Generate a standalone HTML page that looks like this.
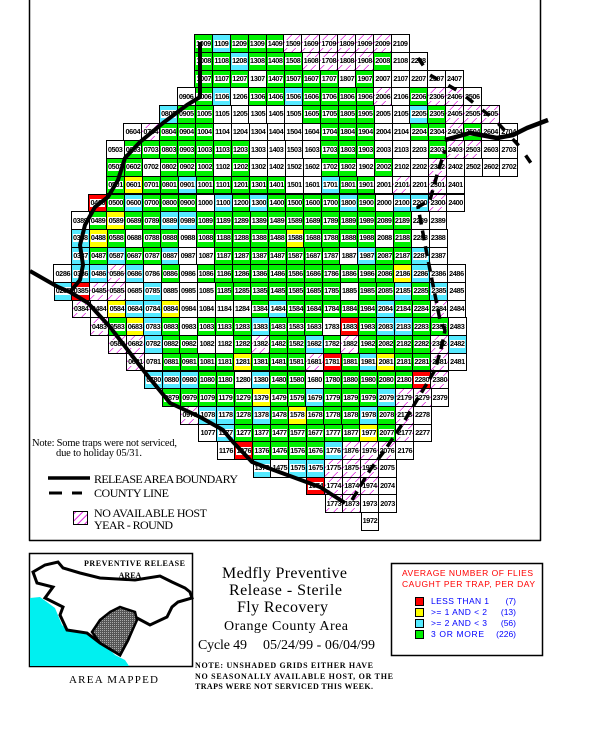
<!DOCTYPE html>
<html><head><meta charset="utf-8"><style>
html,body{margin:0;padding:0;background:#fff}
#p{position:relative;width:600px;height:751px;overflow:hidden;background:#fff}
.r{position:absolute;display:flex;white-space:nowrap;z-index:1}
.r b{box-sizing:border-box;width:18.9px;height:18.7px;margin-right:-1px;border:1px solid #000;display:flex;align-items:center;justify-content:center;flex:none}
.r b i{font:bold 7.3px/8px "Liberation Sans",sans-serif;font-style:normal;background:#fff;color:#000;padding:0 .3px;letter-spacing:-.4px}
.g{background:#00f000}.c{background:#55eaff}.y{background:#ffff00}.x{background:#ff0000}.w{background:#fff}
.h{background:repeating-linear-gradient(135deg,#fff 0 5px,#e020e0 5px 6px)}
svg{position:absolute;left:0;top:0;z-index:2}
</style></head><body><div id="p">
<div class="r" style="left:194px;top:34.2px"><b class=g><i>1009</i></b><b class=c><i>1109</i></b><b class=g><i>1209</i></b><b class=g><i>1309</i></b><b class=g><i>1409</i></b><b class=h><i>1509</i></b><b class=h><i>1609</i></b><b class=h><i>1709</i></b><b class=h><i>1809</i></b><b class=h><i>1909</i></b><b class=h><i>2009</i></b><b class=w><i>2109</i></b></div>
<div class="r" style="left:194.2px;top:51.9px"><b class=g><i>1008</i></b><b class=g><i>1108</i></b><b class=c><i>1208</i></b><b class=g><i>1308</i></b><b class=g><i>1408</i></b><b class=g><i>1508</i></b><b class=h><i>1608</i></b><b class=h><i>1708</i></b><b class=h><i>1808</i></b><b class=h><i>1908</i></b><b class=g><i>2008</i></b><b class=w><i>2108</i></b><b class=w><i>2208</i></b></div>
<div class="r" style="left:194.4px;top:69.6px"><b class=g><i>1007</i></b><b class=g><i>1107</i></b><b class=g><i>1207</i></b><b class=w><i>1307</i></b><b class=g><i>1407</i></b><b class=g><i>1507</i></b><b class=g><i>1607</i></b><b class=g><i>1707</i></b><b class=w><i>1807</i></b><b class=g><i>1907</i></b><b class=w><i>2007</i></b><b class=w><i>2107</i></b><b class=w><i>2207</i></b><b class=w><i>2307</i></b><b class=w><i>2407</i></b></div>
<div class="r" style="left:176.7px;top:87.3px"><b class=w><i>0906</i></b><b class=g><i>1006</i></b><b class=c><i>1106</i></b><b class=w><i>1206</i></b><b class=g><i>1306</i></b><b class=g><i>1406</i></b><b class=c><i>1506</i></b><b class=g><i>1606</i></b><b class=g><i>1706</i></b><b class=g><i>1806</i></b><b class=g><i>1906</i></b><b class=h><i>2006</i></b><b class=w><i>2106</i></b><b class=g><i>2206</i></b><b class=h><i>2306</i></b><b class=h><i>2406</i></b><b class=w><i>2506</i></b></div>
<div class="r" style="left:159px;top:105px"><b class=c><i>0805</i></b><b class=g><i>0905</i></b><b class=g><i>1005</i></b><b class=w><i>1105</i></b><b class=w><i>1205</i></b><b class=w><i>1305</i></b><b class=w><i>1405</i></b><b class=w><i>1505</i></b><b class=g><i>1605</i></b><b class=g><i>1705</i></b><b class=g><i>1805</i></b><b class=g><i>1905</i></b><b class=w><i>2005</i></b><b class=w><i>2105</i></b><b class=c><i>2205</i></b><b class=g><i>2305</i></b><b class=h><i>2405</i></b><b class=h><i>2505</i></b><b class=h><i>2605</i></b></div>
<div class="r" style="left:123.4px;top:122.7px"><b class=w><i>0604</i></b><b class=h><i>0704</i></b><b class=g><i>0804</i></b><b class=g><i>0904</i></b><b class=g><i>1004</i></b><b class=w><i>1104</i></b><b class=w><i>1204</i></b><b class=w><i>1304</i></b><b class=w><i>1404</i></b><b class=w><i>1504</i></b><b class=w><i>1604</i></b><b class=g><i>1704</i></b><b class=g><i>1804</i></b><b class=g><i>1904</i></b><b class=w><i>2004</i></b><b class=w><i>2104</i></b><b class=g><i>2204</i></b><b class=g><i>2304</i></b><b class=h><i>2404</i></b><b class=g><i>2504</i></b><b class=w><i>2604</i></b><b class=w><i>2704</i></b></div>
<div class="r" style="left:105.7px;top:140.4px"><b class=w><i>0503</i></b><b class=g><i>0603</i></b><b class=g><i>0703</i></b><b class=g><i>0803</i></b><b class=g><i>0903</i></b><b class=g><i>1003</i></b><b class=g><i>1103</i></b><b class=g><i>1203</i></b><b class=w><i>1303</i></b><b class=w><i>1403</i></b><b class=w><i>1503</i></b><b class=w><i>1603</i></b><b class=g><i>1703</i></b><b class=g><i>1803</i></b><b class=g><i>1903</i></b><b class=w><i>2003</i></b><b class=w><i>2103</i></b><b class=w><i>2203</i></b><b class=g><i>2303</i></b><b class=h><i>2403</i></b><b class=h><i>2503</i></b><b class=w><i>2603</i></b><b class=w><i>2703</i></b></div>
<div class="r" style="left:105.9px;top:158.1px"><b class=g><i>0502</i></b><b class=g><i>0602</i></b><b class=w><i>0702</i></b><b class=g><i>0802</i></b><b class=g><i>0902</i></b><b class=g><i>1002</i></b><b class=w><i>1102</i></b><b class=g><i>1202</i></b><b class=w><i>1302</i></b><b class=w><i>1402</i></b><b class=w><i>1502</i></b><b class=w><i>1602</i></b><b class=g><i>1702</i></b><b class=g><i>1802</i></b><b class=w><i>1902</i></b><b class=g><i>2002</i></b><b class=w><i>2102</i></b><b class=w><i>2202</i></b><b class=h><i>2302</i></b><b class=w><i>2402</i></b><b class=w><i>2502</i></b><b class=w><i>2602</i></b><b class=w><i>2702</i></b></div>
<div class="r" style="left:106.1px;top:175.8px"><b class=g><i>0501</i></b><b class=y><i>0601</i></b><b class=g><i>0701</i></b><b class=g><i>0801</i></b><b class=c><i>0901</i></b><b class=g><i>1001</i></b><b class=g><i>1101</i></b><b class=g><i>1201</i></b><b class=g><i>1301</i></b><b class=g><i>1401</i></b><b class=w><i>1501</i></b><b class=w><i>1601</i></b><b class=c><i>1701</i></b><b class=g><i>1801</i></b><b class=g><i>1901</i></b><b class=w><i>2001</i></b><b class=h><i>2101</i></b><b class=w><i>2201</i></b><b class=h><i>2301</i></b><b class=w><i>2401</i></b></div>
<div class="r" style="left:88.4px;top:193.5px"><b class=x><i>0400</i></b><b class=g><i>0500</i></b><b class=c><i>0600</i></b><b class=g><i>0700</i></b><b class=g><i>0800</i></b><b class=g><i>0900</i></b><b class=w><i>1000</i></b><b class=c><i>1100</i></b><b class=g><i>1200</i></b><b class=c><i>1300</i></b><b class=g><i>1400</i></b><b class=g><i>1500</i></b><b class=g><i>1600</i></b><b class=g><i>1700</i></b><b class=c><i>1800</i></b><b class=g><i>1900</i></b><b class=w><i>2000</i></b><b class=c><i>2100</i></b><b class=c><i>2200</i></b><b class=h><i>2300</i></b><b class=w><i>2400</i></b></div>
<div class="r" style="left:70.7px;top:211.2px"><b class=w><i>0389</i></b><b class=g><i>0489</i></b><b class=y><i>0589</i></b><b class=g><i>0689</i></b><b class=g><i>0789</i></b><b class=c><i>0889</i></b><b class=c><i>0989</i></b><b class=g><i>1089</i></b><b class=g><i>1189</i></b><b class=g><i>1289</i></b><b class=g><i>1389</i></b><b class=g><i>1489</i></b><b class=g><i>1589</i></b><b class=g><i>1689</i></b><b class=g><i>1789</i></b><b class=g><i>1889</i></b><b class=g><i>1989</i></b><b class=g><i>2089</i></b><b class=g><i>2189</i></b><b class=w><i>2289</i></b><b class=w><i>2389</i></b></div>
<div class="r" style="left:70.9px;top:228.9px"><b class=c><i>0388</i></b><b class=y><i>0488</i></b><b class=g><i>0588</i></b><b class=w><i>0688</i></b><b class=g><i>0788</i></b><b class=g><i>0888</i></b><b class=w><i>0988</i></b><b class=g><i>1088</i></b><b class=g><i>1188</i></b><b class=g><i>1288</i></b><b class=g><i>1388</i></b><b class=g><i>1488</i></b><b class=y><i>1588</i></b><b class=g><i>1688</i></b><b class=g><i>1788</i></b><b class=g><i>1888</i></b><b class=g><i>1988</i></b><b class=w><i>2088</i></b><b class=g><i>2188</i></b><b class=w><i>2288</i></b><b class=w><i>2388</i></b></div>
<div class="r" style="left:71.1px;top:246.6px"><b class=c><i>0387</i></b><b class=g><i>0487</i></b><b class=c><i>0587</i></b><b class=g><i>0687</i></b><b class=g><i>0787</i></b><b class=c><i>0887</i></b><b class=w><i>0987</i></b><b class=w><i>1087</i></b><b class=g><i>1187</i></b><b class=g><i>1287</i></b><b class=g><i>1387</i></b><b class=g><i>1487</i></b><b class=g><i>1587</i></b><b class=g><i>1687</i></b><b class=g><i>1787</i></b><b class=w><i>1887</i></b><b class=c><i>1987</i></b><b class=g><i>2087</i></b><b class=g><i>2187</i></b><b class=c><i>2287</i></b><b class=w><i>2387</i></b></div>
<div class="r" style="left:53.4px;top:264.3px"><b class=w><i>0286</i></b><b class=c><i>0386</i></b><b class=c><i>0486</i></b><b class=h><i>0586</i></b><b class=c><i>0686</i></b><b class=w><i>0786</i></b><b class=g><i>0886</i></b><b class=w><i>0986</i></b><b class=g><i>1086</i></b><b class=g><i>1186</i></b><b class=g><i>1286</i></b><b class=g><i>1386</i></b><b class=g><i>1486</i></b><b class=g><i>1586</i></b><b class=g><i>1686</i></b><b class=g><i>1786</i></b><b class=g><i>1886</i></b><b class=g><i>1986</i></b><b class=g><i>2086</i></b><b class=y><i>2186</i></b><b class=c><i>2286</i></b><b class=w><i>2386</i></b><b class=w><i>2486</i></b></div>
<div class="r" style="left:53.6px;top:282px"><b class=c><i>0285</i></b><b class=x><i>0385</i></b><b class=h><i>0485</i></b><b class=h><i>0585</i></b><b class=w><i>0685</i></b><b class=c><i>0785</i></b><b class=w><i>0885</i></b><b class=w><i>0985</i></b><b class=w><i>1085</i></b><b class=g><i>1185</i></b><b class=g><i>1285</i></b><b class=g><i>1385</i></b><b class=g><i>1485</i></b><b class=g><i>1585</i></b><b class=g><i>1685</i></b><b class=g><i>1785</i></b><b class=w><i>1885</i></b><b class=g><i>1985</i></b><b class=g><i>2085</i></b><b class=c><i>2185</i></b><b class=g><i>2285</i></b><b class=c><i>2385</i></b><b class=w><i>2485</i></b></div>
<div class="r" style="left:71.7px;top:299.7px"><b class=h><i>0384</i></b><b class=w><i>0484</i></b><b class=y><i>0584</i></b><b class=c><i>0684</i></b><b class=c><i>0784</i></b><b class=y><i>0884</i></b><b class=w><i>0984</i></b><b class=w><i>1084</i></b><b class=w><i>1184</i></b><b class=w><i>1284</i></b><b class=g><i>1384</i></b><b class=c><i>1484</i></b><b class=g><i>1584</i></b><b class=g><i>1684</i></b><b class=g><i>1784</i></b><b class=g><i>1884</i></b><b class=g><i>1984</i></b><b class=c><i>2084</i></b><b class=g><i>2184</i></b><b class=g><i>2284</i></b><b class=h><i>2384</i></b><b class=w><i>2484</i></b></div>
<div class="r" style="left:89.8px;top:317.4px"><b class=h><i>0483</i></b><b class=g><i>0583</i></b><b class=y><i>0683</i></b><b class=c><i>0783</i></b><b class=g><i>0883</i></b><b class=w><i>0983</i></b><b class=g><i>1083</i></b><b class=g><i>1183</i></b><b class=g><i>1283</i></b><b class=c><i>1383</i></b><b class=g><i>1483</i></b><b class=g><i>1583</i></b><b class=g><i>1683</i></b><b class=w><i>1783</i></b><b class=x><i>1883</i></b><b class=g><i>1983</i></b><b class=c><i>2083</i></b><b class=c><i>2183</i></b><b class=g><i>2283</i></b><b class=g><i>2383</i></b><b class=w><i>2483</i></b></div>
<div class="r" style="left:107.9px;top:335.1px"><b class=h><i>0582</i></b><b class=h><i>0682</i></b><b class=c><i>0782</i></b><b class=g><i>0882</i></b><b class=g><i>0982</i></b><b class=w><i>1082</i></b><b class=w><i>1182</i></b><b class=g><i>1282</i></b><b class=h><i>1382</i></b><b class=g><i>1482</i></b><b class=g><i>1582</i></b><b class=c><i>1682</i></b><b class=g><i>1782</i></b><b class=h><i>1882</i></b><b class=g><i>1982</i></b><b class=g><i>2082</i></b><b class=g><i>2182</i></b><b class=g><i>2282</i></b><b class=h><i>2382</i></b><b class=c><i>2482</i></b></div>
<div class="r" style="left:126px;top:352.8px"><b class=h><i>0681</i></b><b class=w><i>0781</i></b><b class=g><i>0881</i></b><b class=g><i>0981</i></b><b class=g><i>1081</i></b><b class=g><i>1181</i></b><b class=y><i>1281</i></b><b class=g><i>1381</i></b><b class=g><i>1481</i></b><b class=g><i>1581</i></b><b class=h><i>1681</i></b><b class=x><i>1781</i></b><b class=g><i>1881</i></b><b class=c><i>1981</i></b><b class=y><i>2081</i></b><b class=g><i>2181</i></b><b class=g><i>2281</i></b><b class=h><i>2381</i></b><b class=w><i>2481</i></b></div>
<div class="r" style="left:144.1px;top:370.5px"><b class=c><i>0780</i></b><b class=c><i>0880</i></b><b class=c><i>0980</i></b><b class=g><i>1080</i></b><b class=g><i>1180</i></b><b class=w><i>1280</i></b><b class=c><i>1380</i></b><b class=g><i>1480</i></b><b class=g><i>1580</i></b><b class=w><i>1680</i></b><b class=g><i>1780</i></b><b class=g><i>1880</i></b><b class=g><i>1980</i></b><b class=g><i>2080</i></b><b class=g><i>2180</i></b><b class=x><i>2280</i></b><b class=h><i>2380</i></b></div>
<div class="r" style="left:162.2px;top:388.2px"><b class=g><i>0879</i></b><b class=g><i>0979</i></b><b class=g><i>1079</i></b><b class=g><i>1179</i></b><b class=g><i>1279</i></b><b class=y><i>1379</i></b><b class=g><i>1479</i></b><b class=g><i>1579</i></b><b class=c><i>1679</i></b><b class=g><i>1779</i></b><b class=g><i>1879</i></b><b class=g><i>1979</i></b><b class=c><i>2079</i></b><b class=h><i>2179</i></b><b class=h><i>2279</i></b><b class=w><i>2379</i></b></div>
<div class="r" style="left:180.3px;top:405.9px"><b class=h><i>0978</i></b><b class=c><i>1078</i></b><b class=c><i>1178</i></b><b class=g><i>1278</i></b><b class=c><i>1378</i></b><b class=g><i>1478</i></b><b class=y><i>1578</i></b><b class=g><i>1678</i></b><b class=g><i>1778</i></b><b class=g><i>1878</i></b><b class=c><i>1978</i></b><b class=g><i>2078</i></b><b class=h><i>2178</i></b><b class=w><i>2278</i></b></div>
<div class="r" style="left:198.4px;top:423.6px"><b class=w><i>1077</i></b><b class=c><i>1177</i></b><b class=g><i>1277</i></b><b class=g><i>1377</i></b><b class=g><i>1477</i></b><b class=g><i>1577</i></b><b class=g><i>1677</i></b><b class=g><i>1777</i></b><b class=g><i>1877</i></b><b class=y><i>1977</i></b><b class=g><i>2077</i></b><b class=h><i>2177</i></b><b class=w><i>2277</i></b></div>
<div class="r" style="left:216.5px;top:441.3px"><b class=w><i>1176</i></b><b class=x><i>1276</i></b><b class=g><i>1376</i></b><b class=g><i>1476</i></b><b class=g><i>1576</i></b><b class=g><i>1676</i></b><b class=c><i>1776</i></b><b class=h><i>1876</i></b><b class=h><i>1976</i></b><b class=h><i>2076</i></b><b class=w><i>2176</i></b></div>
<div class="r" style="left:252.5px;top:459px"><b class=c><i>1375</i></b><b class=w><i>1475</i></b><b class=c><i>1575</i></b><b class=c><i>1675</i></b><b class=h><i>1775</i></b><b class=h><i>1875</i></b><b class=h><i>1975</i></b><b class=w><i>2075</i></b></div>
<div class="r" style="left:306.4px;top:476.7px"><b class=x><i>1674</i></b><b class=h><i>1774</i></b><b class=h><i>1874</i></b><b class=h><i>1974</i></b><b class=w><i>2074</i></b></div>
<div class="r" style="left:324.5px;top:494.4px"><b class=h><i>1773</i></b><b class=h><i>1873</i></b><b class=w><i>1973</i></b><b class=w><i>2073</i></b></div>
<div class="r" style="left:360.5px;top:512.1px"><b class=w><i>1972</i></b></div>

<svg width="600" height="751" viewBox="0 0 600 751" xmlns="http://www.w3.org/2000/svg">
<defs><pattern id="hp" width="5" height="5" patternUnits="userSpaceOnUse" patternTransform="rotate(45)"><rect width="5" height="5" fill="#fff"/><rect width="1" height="5" fill="#e020e0"/></pattern>
<pattern id="dp" width="2" height="2" patternUnits="userSpaceOnUse"><rect width="2" height="2" fill="#555"/><rect width="1" height="1" fill="#aaa"/></pattern></defs>
<g fill="none" stroke="#000" stroke-linejoin="round">
<path d="M29.5 0V540.5H540.5V0" stroke-width="1.5"/>
<path d="M30 271L58 287L70 292L88 303L110 327L130 353L147 375L170 403L200 417L223 430L233 442L252 462L290 476L320 487L345 503" stroke-width="4"/>
<path d="M200 42L200 97L187 105L163 123L140 142L125 158L118 180L108 197L95 207L85 225L80 245L83 265L80 280L70 292" stroke-width="4"/>
<path d="M445 140L470 133L497 138L513 135L527 128L548 120" stroke-width="4.5"/>
<path d="M352 500L370 470L385 450L405 420L420 395L435 370L442 345L445 330L440 320L428 260L418 207L430 200L437 175L445 150" stroke-width="3.5" stroke-dasharray="10 6"/>
<path d="M418 58L430 75L460 92L495 120L520 147L537 172" stroke-width="3.5" stroke-dasharray="9 12"/>
<path d="M48 478H90" stroke-width="3.5"/>
<path d="M49 493H62M72 493H82" stroke-width="3"/>
</g>
<rect x="73.5" y="511.5" width="14" height="13" fill="url(#hp)" stroke="#000"/>
<g font-family="Liberation Serif,serif" fill="#000">
<text x="32" y="446" font-size="10.5" textLength="145">Note: Some traps were not serviced,</text>
<text x="56" y="456" font-size="10.5" textLength="86">due to holiday 05/31.</text>
<text x="94" y="483" font-size="12" textLength="144">RELEASE AREA BOUNDARY</text>
<text x="94" y="497" font-size="12" textLength="75">COUNTY LINE</text>
<text x="94" y="517" font-size="12" textLength="113">NO AVAILABLE HOST</text>
<text x="94" y="529" font-size="12" textLength="79">YEAR - ROUND</text>
</g>
<rect x="29.5" y="553.5" width="163" height="113" fill="#fff" stroke="#000" stroke-width="1.5"/>
<path d="M30 598L40 597L55 608L62 625L70 632L85 630L100 640L115 655L125 660L129 666L30 666Z" fill="#00f0f0"/>
<path d="M33 572L45 565L58 562L63 568L80 573L100 578L135 580L160 576L172 582L185 588L190 592L192 598L178 602L172 607L167 617L150 625L137 618L128 640L120 655L100 643L87 633L67 630L60 615L63 607L45 598L53 587L37 583Z" fill="#fff" stroke="#000" stroke-width="3"/>
<path d="M110 612L120 607L135 612L137 620L128 640L120 655L100 643L92 632L100 620Z" fill="url(#dp)" stroke="#000" stroke-width="2.5"/>
<g font-family="Liberation Serif,serif" fill="#000">
<text x="84" y="566" font-size="8" font-weight="bold" textLength="101">PREVENTIVE RELEASE</text>
<text x="130" y="578" font-size="8" font-weight="bold" text-anchor="middle">AREA</text>
<text x="69" y="683" font-size="11" textLength="89">AREA MAPPED</text>
<text x="222" y="578" font-size="16" textLength="125">Medfly Preventive</text>
<text x="229" y="595" font-size="16" textLength="113">Release - Sterile</text>
<text x="237" y="612" font-size="16" textLength="91">Fly Recovery</text>
<text x="224" y="630" font-size="14" textLength="124">Orange County Area</text>
<text x="198" y="649" font-size="14" textLength="49">Cycle 49</text>
<text x="263" y="649" font-size="14" textLength="112">05/24/99 - 06/04/99</text>
<text x="195" y="668" font-size="8" font-weight="bold" textLength="178">NOTE: UNSHADED GRIDS EITHER HAVE</text>
<text x="195" y="679" font-size="8" font-weight="bold" textLength="198">NO SEASONALLY AVAILABLE HOST, OR THE</text>
<text x="195" y="689" font-size="8" font-weight="bold" textLength="178">TRAPS WERE NOT SERVICED THIS WEEK.</text>
</g>
<rect x="391.5" y="563.5" width="151" height="92" fill="#fff" stroke="#000" stroke-width="1.5"/>
<g font-family="Liberation Sans,sans-serif" font-size="8.5">
<text x="402" y="576" fill="#f00" textLength="131">AVERAGE NUMBER OF FLIES</text>
<text x="402" y="587" fill="#f00" textLength="133">CAUGHT PER TRAP, PER DAY</text>
<g fill="#00f">
<text x="431" y="604" textLength="58">LESS THAN 1</text><text x="516" y="604" text-anchor="end">(7)</text>
<text x="431" y="615" textLength="56">&gt;= 1 AND &lt; 2</text><text x="516" y="615" text-anchor="end">(13)</text>
<text x="431" y="626" textLength="56">&gt;= 2 AND &lt; 3</text><text x="516" y="626" text-anchor="end">(56)</text>
<text x="431" y="637" textLength="53">3 OR MORE</text><text x="516" y="637" text-anchor="end">(226)</text>
</g></g>
<g stroke="#000">
<rect x="415.5" y="597.5" width="8" height="8" fill="#f00"/>
<rect x="415.5" y="608.5" width="8" height="8" fill="#ff0"/>
<rect x="415.5" y="619.5" width="8" height="8" fill="#55eaff"/>
<rect x="415.5" y="630.5" width="8" height="8" fill="#00f000"/>
</g>
</svg>
</div></body></html>
